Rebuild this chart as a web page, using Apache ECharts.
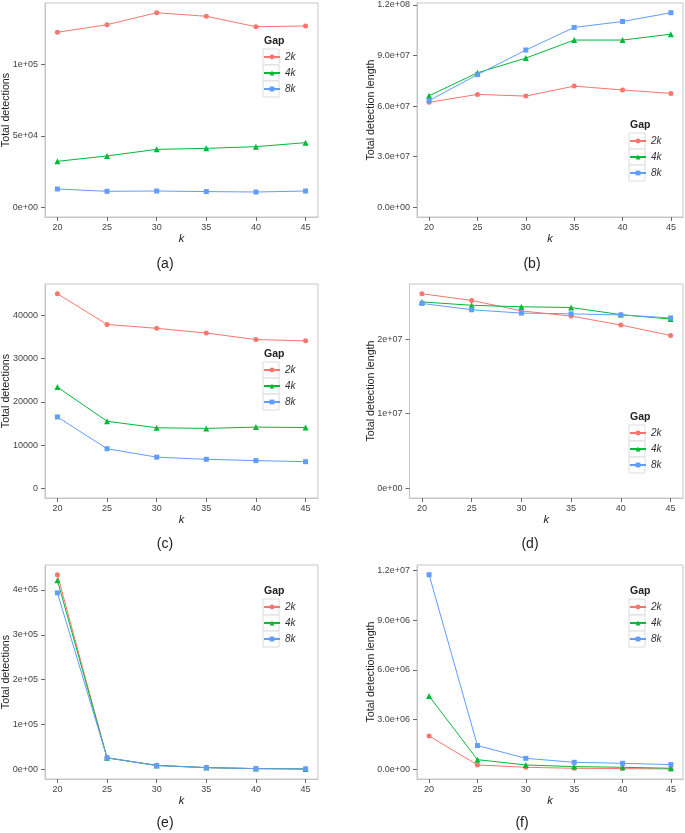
<!DOCTYPE html>
<html><head><meta charset="utf-8">
<script src="https://cdn.jsdelivr.net/npm/echarts@6/dist/echarts.min.js"></script>
<style>html,body{margin:0;padding:0;background:#fff}#c{width:685px;height:833px}</style>
</head><body><div id="c"></div>
<script>
// ---------- data ----------
const kValues = [20, 25, 30, 35, 40, 45];
const seriesNames = ['2k', '4k', '8k'];
const xTicks = [20, 25, 30, 35, 40, 45];

// (a) Total detections
const a2k = [122700, 128000, 136400, 133900, 126600, 127100];
const a4k = [32200, 36000, 40600, 41300, 42500, 45300];
const a8k = [12800, 11200, 11400, 11000, 10700, 11400];
const aTicks = [0, 50000, 100000];
const aTickLabels = ['0e+00', '5e+04', '1e+05'];

// (b) Total detection length
const b2k = [62200000, 66900000, 65900000, 71800000, 69500000, 67500000];
const b4k = [66100000, 79700000, 88400000, 99100000, 99100000, 102600000];
const b8k = [63200000, 78600000, 93200000, 106600000, 110100000, 115300000];
const bTicks = [0, 30000000, 60000000, 90000000, 120000000];
const bTickLabels = ['0.0e+00', '3.0e+07', '6.0e+07', '9.0e+07', '1.2e+08'];

// (c) Total detections
const c2k = [45000, 37900, 37000, 35900, 34400, 34100];
const c4k = [23400, 15500, 14000, 13850, 14150, 14050];
const c8k = [16500, 9150, 7200, 6700, 6400, 6150];
const cTicks = [0, 10000, 20000, 30000, 40000];
const cTickLabels = ['0', '10000', '20000', '30000', '40000'];

// (d) Total detection length
const d2k = [26100000, 25200000, 23800000, 23100000, 21900000, 20500000];
const d4k = [25000000, 24550000, 24350000, 24250000, 23300000, 22700000];
const d8k = [24800000, 23950000, 23500000, 23400000, 23250000, 22850000];
const dTicks = [0, 10000000, 20000000];
const dTickLabels = ['0e+00', '1e+07', '2e+07'];

// (e) Total detections
const e2k = [434000, 25300, 8900, 3700, 1500, 700];
const e4k = [421500, 25500, 8600, 3700, 1500, 700];
const e8k = [393500, 25800, 8200, 3700, 1500, 700];
const eTicks = [0, 100000, 200000, 300000, 400000];
const eTickLabels = ['0e+00', '1e+05', '2e+05', '3e+05', '4e+05'];

// (f) Total detection length
const f2k = [2010000, 260000, 120000, 60000, 40000, 20000];
const f4k = [4420000, 580000, 260000, 160000, 120000, 60000];
const f8k = [11740000, 1430000, 660000, 420000, 360000, 280000];
const fTicks = [0, 3000000, 6000000, 9000000, 12000000];
const fTickLabels = ['0.0e+00', '3.0e+06', '6.0e+06', '9.0e+06', '1.2e+07'];

// ---------- layout ----------
const colors = ['#F8766D', '#00BA38', '#619CFF'];
const symbols = ['circle', 'triangle', 'rect'];
const symbolSizes = [5, 6, 5];
const FONT = '"Liberation Sans", Arial, sans-serif';
const BORDER = '#c6c6c6';

const panels = [
  {caption: '(a)', cap: [165, 264], grid: {left: 45, top: 3, width: 273, height: 214}, yName: 'Total detections', nameGap: 33, data: [a2k, a4k, a8k], ticks: aTicks, labels: aTickLabels, leg: [263, 49]},
  {caption: '(b)', cap: [532, 264], grid: {left: 417, top: 3, width: 266, height: 214}, yName: 'Total detection length', nameGap: 40, data: [b2k, b4k, b8k], ticks: bTicks, labels: bTickLabels, leg: [629, 133]},
  {caption: '(c)', cap: [165, 544], grid: {left: 45, top: 284, width: 273, height: 214}, yName: 'Total detections', nameGap: 33, data: [c2k, c4k, c8k], ticks: cTicks, labels: cTickLabels, leg: [263, 362]},
  {caption: '(d)', cap: [530, 544], grid: {left: 409.5, top: 284, width: 273.5, height: 214}, yName: 'Total detection length', nameGap: 32.5, data: [d2k, d4k, d8k], ticks: dTicks, labels: dTickLabels, leg: [629, 425]},
  {caption: '(e)', cap: [165, 823], grid: {left: 45, top: 565, width: 273, height: 214}, yName: 'Total detections', nameGap: 33, data: [e2k, e4k, e8k], ticks: eTicks, labels: eTickLabels, leg: [263, 599]},
  {caption: '(f)', cap: [522, 823], grid: {left: 417, top: 565, width: 266, height: 214}, yName: 'Total detection length', nameGap: 40, data: [f2k, f4k, f8k], ticks: fTicks, labels: fTickLabels, leg: [629, 599]}
];

const option = {
  animation: false,
  textStyle: {fontFamily: FONT},
  grid: [], xAxis: [], yAxis: [], series: [], legend: [], graphic: []
};

panels.forEach((p, i) => {
  const all = [].concat(...p.data);
  const dmax = Math.max(...all, 0);
  const dmin = Math.min(...all, 0);
  const pad = (dmax - dmin) * 0.05;
  option.grid.push(Object.assign({show: true, borderColor: BORDER, borderWidth: 1, backgroundColor: '#fff', outerBoundsMode: 'none', containLabel: false}, p.grid));
  option.xAxis.push({
    type: 'value', gridIndex: i, min: 18.75, max: 46.25, position: 'bottom',
    name: 'k', nameLocation: 'middle', nameGap: 16, nameMoveOverlap: false,
    nameTextStyle: {fontSize: 11, fontStyle: 'italic', color: '#222'},
    axisLine: {show: true, onZero: false, lineStyle: {color: BORDER, width: 1}}, splitLine: {show: false},
    axisTick: {show: true, inside: false, customValues: xTicks, length: 4, lineStyle: {color: '#6a6a6a'}},
    axisLabel: {customValues: xTicks, fontSize: 9, color: '#444', margin: 6}
  });
  const tickLabelMap = {};
  p.ticks.forEach((t, j) => tickLabelMap[t] = p.labels[j]);
  option.yAxis.push({
    type: 'value', gridIndex: i, min: dmin - pad, max: dmax + pad, position: 'left',
    name: p.yName, nameLocation: 'middle', nameGap: p.nameGap, nameRotate: 90, nameMoveOverlap: false,
    nameTextStyle: {fontSize: 10.7, color: '#222'},
    axisLine: {show: true, onZero: false, lineStyle: {color: BORDER, width: 1}}, splitLine: {show: false},
    axisTick: {show: true, inside: false, customValues: p.ticks, length: 4, lineStyle: {color: '#6a6a6a'}},
    axisLabel: {customValues: p.ticks, fontSize: 9, color: '#444', margin: 7,
      formatter: v => tickLabelMap[v] !== undefined ? tickLabelMap[v] : ''}
  });
  p.data.forEach((arr, s) => {
    option.series.push({
      type: 'line', name: seriesNames[s], xAxisIndex: i, yAxisIndex: i,
      data: kValues.map((k, j) => [k, arr[j]]),
      symbol: symbols[s], symbolSize: symbolSizes[s], showSymbol: true,
      lineStyle: {width: 1, color: colors[s]}, itemStyle: {color: colors[s]},
      emphasis: {disabled: true}, z: 2
    });
  });
  option.legend.push({
    data: seriesNames, orient: 'vertical', left: p.leg[0], top: p.leg[1],
    padding: 0, itemWidth: 16, itemHeight: 6, itemGap: 0, selectedMode: false,
    textStyle: {fontSize: 10, fontStyle: 'italic', color: '#333', lineHeight: 16}, z: 5
  });
  // legend title and key boxes
  option.graphic.push({
    type: 'text', left: p.leg[0] + 1, top: p.leg[1] - 13, z: 5,
    style: {text: 'Gap', font: 'bold 10.5px ' + FONT, fill: '#222'}
  });
  for (let s = 0; s < 3; s++) {
    option.graphic.push({
      type: 'rect', shape: {x: p.leg[0], y: p.leg[1] + s * 16, width: 16, height: 16}, z: 3,
      style: {fill: '#fff', stroke: '#dcdcdc', lineWidth: 1}
    });
  }
  option.graphic.push({
    type: 'text', x: p.cap[0], y: p.cap[1], z: 5,
    style: {text: p.caption, font: '14px ' + FONT, fill: '#222', align: 'center', verticalAlign: 'middle'}
  });
});

const chart = echarts.init(document.getElementById('c'), null, {renderer: 'canvas'});
chart.setOption(option);
</script>
</body></html>
